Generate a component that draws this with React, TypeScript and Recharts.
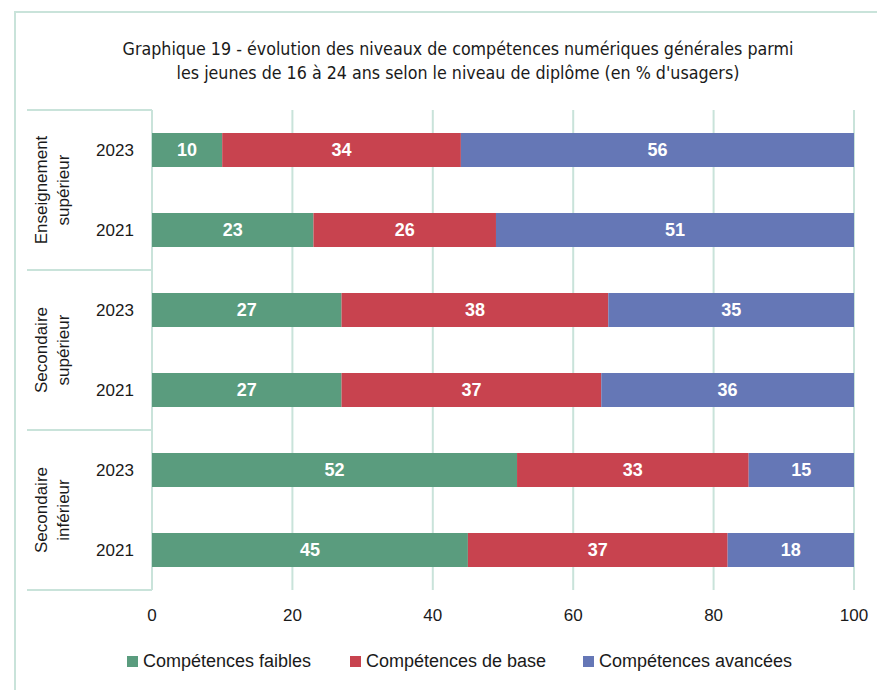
import { BarChart, Bar, XAxis, YAxis, CartesianGrid, Legend, LabelList } from 'recharts'

const groups = [
  ['Enseignement', 'supérieur'],
  ['Secondaire', 'supérieur'],
  ['Secondaire', 'inférieur'],
]
const years = ['2023', '2021', '2023', '2021', '2023', '2021']
const faibles = [10, 23, 27, 27, 52, 45]
const base = [34, 26, 38, 37, 33, 37]
const avancees = [56, 51, 35, 36, 15, 18]
const xTicks = [0, 20, 40, 60, 80, 100]

const seriesNames = ['Compétences faibles', 'Compétences de base', 'Compétences avancées']
const colors = ['#5A9C7E', '#C8434F', '#6577B6']
const legendWidths = [223, 233, 220]

const data = years.map((y, i) => ({
  row: `${i}-${y}`,
  year: y,
  faibles: faibles[i],
  base: base[i],
  avancees: avancees[i],
}))

const gridColor = '#C9E3DA'
const narrow = '"Liberation Sans Narrow", "DejaVu Sans Condensed", Roboto, sans-serif'
const sans = '"Liberation Sans", Arial, sans-serif'

function CategoryTick(props: any) {
  const { y, index } = props
  const year = years[index]
  const isFirst = index % 2 === 0
  const g = groups[Math.floor(index / 2)]
  const gc = y + 40
  return (
    <g>
      <text x={115} y={y} textAnchor="middle" dominantBaseline="central" fontSize={17} fill="#1a1a1a" fontFamily={sans}>
        {year}
      </text>
      {isFirst && (
        <>
          <line x1={27} x2={152} y1={y - 40} y2={y - 40} stroke={gridColor} strokeWidth={2} />
          <text
            transform={`rotate(-90 ${0} ${gc})`}
            x={0}
            y={gc}
            textAnchor="middle"
            fontSize={17}
            fill="#1a1a1a"
            fontFamily={sans}
          >
            <tspan x={0} y={gc + 47}>{g[0]}</tspan>
            <tspan x={0} y={gc + 69}>{g[1]}</tspan>
          </text>
        </>
      )}
      {index === years.length - 1 && (
        <line x1={27} x2={152} y1={y + 40} y2={y + 40} stroke={gridColor} strokeWidth={2} />
      )}
    </g>
  )
}

function LegendContent() {
  return (
    <div style={{ display: 'flex', height: 30, alignItems: 'center', fontFamily: sans, fontSize: 18, color: '#1a1a1a' }}>
      {seriesNames.map((n, i) => (
        <div key={n} style={{ display: 'flex', alignItems: 'center', width: legendWidths[i], whiteSpace: 'nowrap' }}>
          <span style={{ width: 11, height: 11, background: colors[i], display: 'inline-block', marginRight: 5, flex: 'none' }} />
          <span>{n}</span>
        </div>
      ))}
    </div>
  )
}

export default function App() {
  return (
    <div style={{ position: 'absolute', left: 0, top: 0, width: 877, height: 690, background: '#fff', overflow: 'hidden' }}>
      <div
        style={{
          position: 'absolute',
          left: 14,
          top: 11,
          width: 900,
          height: 700,
          borderLeft: `2px solid ${gridColor}`,
          borderTop: `2px solid ${gridColor}`,
        }}
      />
      <div
        style={{
          position: 'absolute',
          left: 0,
          width: 916,
          top: 37,
          textAlign: 'center',
          fontFamily: narrow,
          fontSize: 17.7,
          lineHeight: '24px',
          color: '#1a1a1a',
        }}
      >
        Graphique 19 - évolution des niveaux de compétences numériques générales parmi
        <br />
        les jeunes de 16 à 24 ans selon le niveau de diplôme (en % d'usagers)
      </div>
      <div style={{ position: 'absolute', left: 0, top: 0 }}>
        <BarChart
          width={877}
          height={690}
          data={data}
          layout="vertical"
          barSize={34}
          margin={{ top: 110, right: 23, left: 2, bottom: 14 }}
        >
          <CartesianGrid horizontal={false} vertical stroke={gridColor} strokeWidth={2} />
          <XAxis
            type="number"
            domain={[0, 100]}
            ticks={xTicks}
            axisLine={false}
            tickLine={false}
            tickSize={6}
            tickMargin={13}
            height={56}
            tick={{ fontSize: 17, fill: '#1a1a1a', fontFamily: sans }}
          />
          <YAxis
            type="category"
            dataKey="row"
            width={150}
            axisLine={false}
            tickLine={false}
            tick={<CategoryTick />}
            interval={0}
          />
          <Legend
            verticalAlign="bottom"
            height={30}
            content={<LegendContent />}
            wrapperStyle={{ left: 127, width: 'auto' }}
          />
          <Bar dataKey="faibles" stackId="a" fill={colors[0]} isAnimationActive={false}>
            <LabelList dataKey="faibles" position="center" fill="#fff" fontSize={18} fontWeight="bold" fontFamily={sans} />
          </Bar>
          <Bar dataKey="base" stackId="a" fill={colors[1]} isAnimationActive={false}>
            <LabelList dataKey="base" position="center" fill="#fff" fontSize={18} fontWeight="bold" fontFamily={sans} />
          </Bar>
          <Bar dataKey="avancees" stackId="a" fill={colors[2]} isAnimationActive={false}>
            <LabelList dataKey="avancees" position="center" fill="#fff" fontSize={18} fontWeight="bold" fontFamily={sans} />
          </Bar>
        </BarChart>
      </div>
    </div>
  )
}
